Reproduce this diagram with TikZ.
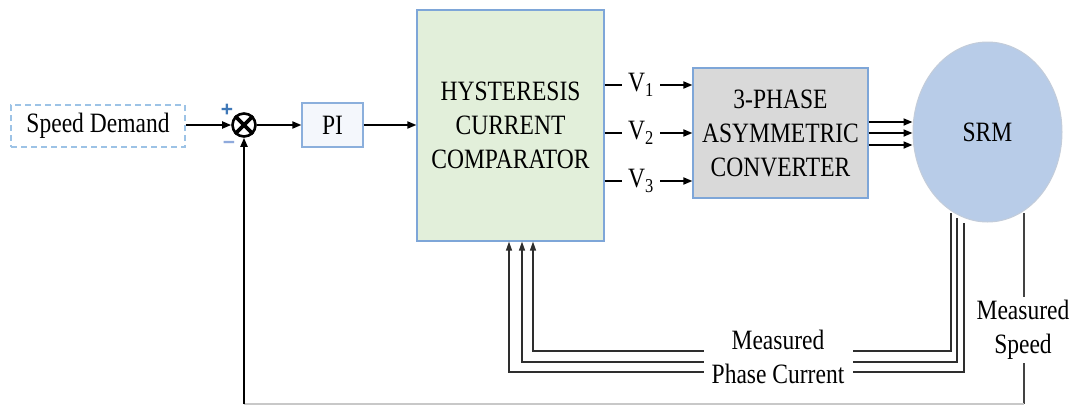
\documentclass[tikz,border=0pt]{standalone}
\usepackage{fontspec}
\setmainfont{Liberation Serif}[FakeStretch=0.84]
\newfontfamily\signfont{Liberation Sans}
\usetikzlibrary{arrows.meta,shapes.geometric}
\definecolor{hccfill}{HTML}{E2EFDA}
\definecolor{boxborder}{HTML}{7EA6D8}
\definecolor{convfill}{HTML}{D9D9D9}
\definecolor{srmfill}{HTML}{B8CCE8}
\definecolor{srmborder}{HTML}{C3CCDA}
\definecolor{dashblue}{HTML}{9DC3E6}
\definecolor{pifill}{HTML}{F4F7FC}
\definecolor{plusblue}{HTML}{3F78B8}
\definecolor{minusblue}{HTML}{8FAADC}
\definecolor{fbgray}{HTML}{2E2E2E}
\definecolor{bottomgray}{HTML}{C8C8C8}
\begin{document}
\begin{tikzpicture}[x=1pt,y=-1pt,
  txt/.style={font=\fontsize{28}{34}\selectfont, align=center, text=black},
  blockbox/.style={txt, draw=boxborder, line width=1.2pt, inner sep=0pt},
  arr/.style={-{Triangle[length=9pt,width=7pt]}, line width=1.8pt},
  fb/.style={line width=1.3pt, draw=fbgray},
  fbarr/.style={fb, -{Triangle[length=9pt,width=6pt]}},
  sign/.style={font=\signfont\bfseries\fontsize{21}{21}\selectfont, inner sep=0pt},
]
\useasboundingbox (0,0) rectangle (1077,405);

% blocks
\node[txt, draw=dashblue, dash pattern=on 6pt off 4pt, line width=1.3pt,
      minimum width=174pt, minimum height=42pt, inner sep=0pt] (sd) at (98,126) {Speed Demand};
\node[circle, draw=black, line width=2.6pt, minimum size=23pt, inner sep=0pt] (sum) at (244,125) {};
\draw[line width=3.6pt] (sum.45) -- (sum.225) (sum.135) -- (sum.315);
\node[sign, text=plusblue] (plus) at (227,110) {+};
\node[sign, text=minusblue] (minus) at (229,145) {−};
\node[blockbox, fill=pifill, draw=boxborder!90, minimum width=61pt, minimum height=44pt] (pi) at (332.5,125) {PI};
\node[blockbox, fill=hccfill, minimum width=187pt, minimum height=231pt] (hcc) at (510.5,125.5)
  {HYSTERESIS\\CURRENT\\COMPARATOR};
\node[blockbox, fill=convfill, minimum width=175pt, minimum height=130pt] (conv) at (780.5,133)
  {3-PHASE\\ASYMMETRIC\\CONVERTER};
\node[txt, ellipse, fill=srmfill, draw=srmborder, line width=1pt,
      minimum width=149pt, minimum height=180pt, inner sep=0pt] (srm) at (987.5,132) {SRM};

% forward path
\draw[arr] (sd.east |- sum) -- (sum.west);
\draw[arr] (sum.east) -- (pi.west);
\draw[arr] (pi.east) -- (hcc.west |- pi);

% V labels
\node[txt, inner sep=0pt, minimum width=38pt] (v1) at (641,85) {V\textsubscript{1}};
\node[txt, inner sep=0pt, minimum width=38pt] (v2) at (641,133) {V\textsubscript{2}};
\node[txt, inner sep=0pt, minimum width=38pt] (v3) at (641,181) {V\textsubscript{3}};
\foreach \v in {v1,v2,v3}{
  \draw[line width=1.8pt] (hcc.east |- \v) -- (\v.west);
  \draw[arr] (\v.east) -- (conv.west |- \v);
}

% converter to SRM
\coordinate (p1) at (0,122);
\coordinate (p2) at (0,133);
\coordinate (p3) at (0,145);
\foreach \p in {p1,p2,p3}{
  \draw[arr] (conv.east |- \p) -- (srm.west |- \p);
}

% measured phase current feedback
\coordinate (c1) at (951,213);
\coordinate (c2) at (957,218);
\coordinate (c3) at (964,223);
\coordinate (h1) at (0,351);
\coordinate (h2) at (0,362);
\coordinate (h3) at (0,372);
\coordinate (t1) at ([xshift=22.5pt]hcc.south);
\coordinate (t2) at ([xshift=11.5pt]hcc.south);
\coordinate (t3) at ([xshift=-1.5pt]hcc.south);
\draw[fbarr] (c1) -- (c1 |- h1) -- (t1 |- h1) -- (t1);
\draw[fbarr] (c2) -- (c2 |- h2) -- (t2 |- h2) -- (t2);
\draw[fbarr] (c3) -- (c3 |- h3) -- (t3 |- h3) -- (t3);
\node[txt, fill=white, minimum width=149pt, inner sep=1pt] (pc) at (778,357) {Measured\\Phase Current};

% measured speed feedback
\coordinate (s1) at (1024,213);
\coordinate (s2) at (1024,404);
\coordinate (s3) at (244,404);
\draw[line width=1.3pt, draw=fbgray!90] (s1) -- (s2);
\draw[line width=1.5pt, draw=bottomgray] (s2) -- (s3);
\draw[arr, line width=2pt] (s3) -- (sum.south);
\node[txt, fill=white, inner sep=3pt] (ms) at (1023,330) {Measured\\Speed};
\end{tikzpicture}
\end{document}
